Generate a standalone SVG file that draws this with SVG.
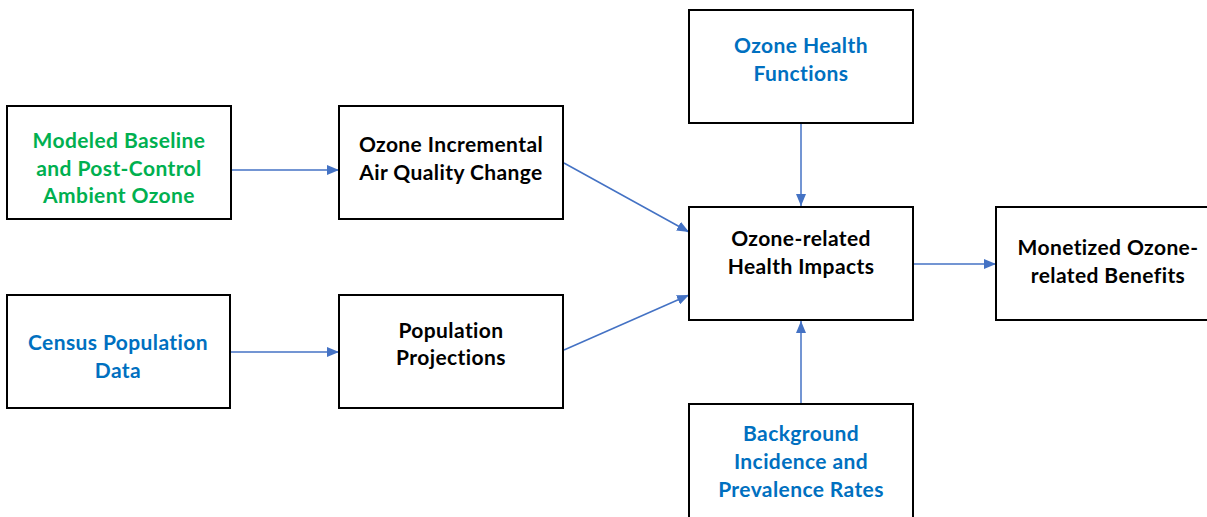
<svg xmlns="http://www.w3.org/2000/svg" width="1207" height="517" viewBox="0 0 1207 517">
<defs>
<marker id="ah" markerWidth="12" markerHeight="10" refX="12" refY="5" orient="auto" markerUnits="userSpaceOnUse">
<path d="M0,0 L12,5 L0,10 Z" fill="#4472C4"/>
</marker>
<style>
.box{fill:#fff;stroke:#000;stroke-width:2}
.t{font-family:Lato,"Open Sans","Liberation Sans",sans-serif;font-weight:bold;font-size:21px;letter-spacing:0.4px;text-anchor:middle}
.k{fill:#000}.g{fill:#00B050}.b{fill:#0070C0}
.c{stroke:#4472C4;stroke-width:1.5;fill:none;marker-end:url(#ah)}
</style>
</defs>
<rect width="1207" height="517" fill="#fff"/>
<g id="connectors">
<line class="c" x1="231" y1="170" x2="339" y2="170"/>
<line class="c" x1="231" y1="352" x2="339" y2="352"/>
<line class="c" x1="564" y1="163" x2="689" y2="232"/>
<line class="c" x1="564" y1="350" x2="689" y2="295"/>
<line class="c" x1="801" y1="123" x2="801" y2="206"/>
<line class="c" x1="801" y1="404" x2="801" y2="321"/>
<line class="c" x1="913" y1="264" x2="996" y2="264"/>
</g>
<g id="modeled">
<rect class="box" x="7" y="106" width="224" height="113"/>
<text class="t g" x="119" y="148">Modeled Baseline</text>
<text class="t g" x="119" y="176">and Post-Control</text>
<text class="t g" x="119" y="203">Ambient Ozone</text>
</g>
<g id="incremental">
<rect class="box" x="339" y="106" width="224" height="113"/>
<text class="t k" x="451" y="152">Ozone Incremental</text>
<text class="t k" x="451" y="180">Air Quality Change</text>
</g>
<g id="census">
<rect class="box" x="7" y="295" width="223" height="113"/>
<text class="t b" x="118" y="350">Census Population</text>
<text class="t b" x="118" y="378">Data</text>
</g>
<g id="population">
<rect class="box" x="339" y="295" width="224" height="113"/>
<text class="t k" x="451" y="338">Population</text>
<text class="t k" x="451" y="365">Projections</text>
</g>
<g id="functions">
<rect class="box" x="689" y="10" width="224" height="113"/>
<text class="t b" x="801" y="53">Ozone Health</text>
<text class="t b" x="801" y="81">Functions</text>
</g>
<g id="impacts">
<rect class="box" x="689" y="207" width="224" height="113"/>
<text class="t k" x="801" y="246">Ozone-related</text>
<text class="t k" x="801" y="274">Health Impacts</text>
</g>
<g id="monetized">
<rect class="box" x="996" y="207" width="224" height="113"/>
<text class="t k" x="1108" y="255">Monetized Ozone-</text>
<text class="t k" x="1108" y="283">related Benefits</text>
</g>
<g id="background">
<rect class="box" x="689" y="404" width="224" height="120"/>
<text class="t b" x="801" y="441">Background</text>
<text class="t b" x="801" y="469">Incidence and</text>
<text class="t b" x="801" y="497">Prevalence Rates</text>
</g>
</svg>
